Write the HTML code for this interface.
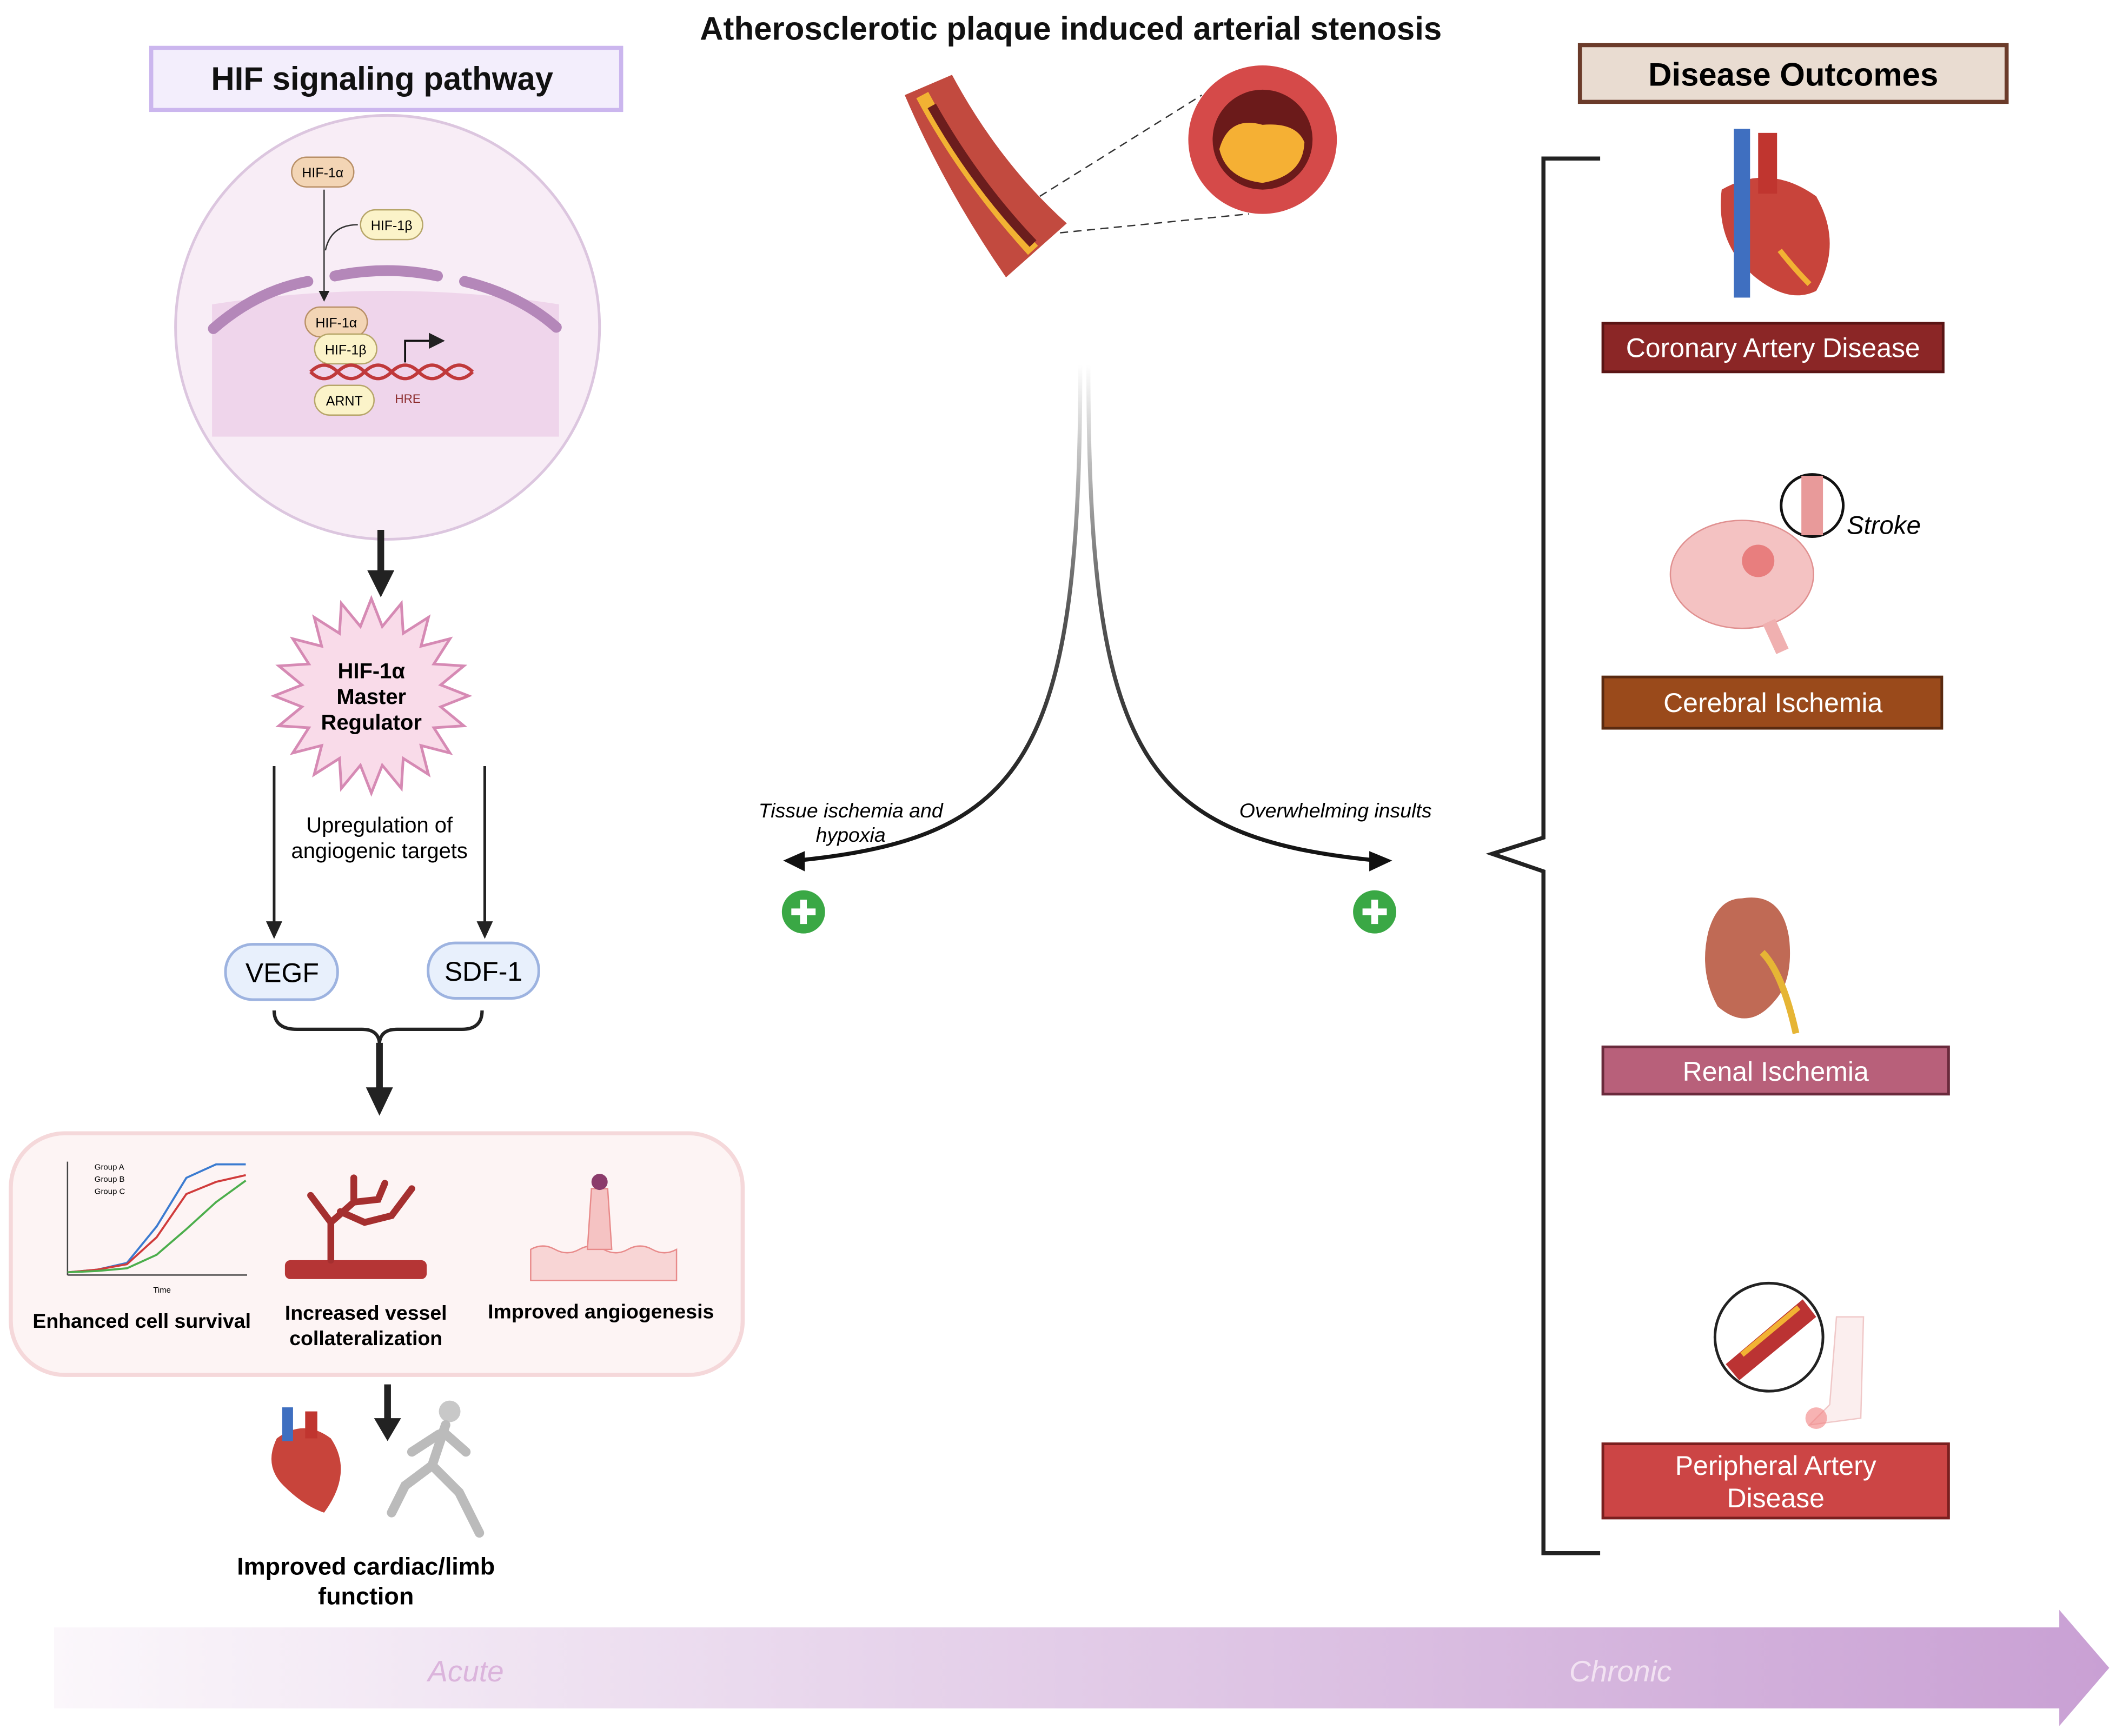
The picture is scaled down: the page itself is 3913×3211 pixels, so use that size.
<!DOCTYPE html>
<html><head><meta charset="utf-8"><style>
html,body{margin:0;padding:0;background:#fff}
svg{display:block}
text{font-family:"Liberation Sans",sans-serif}
</style></head><body>
<svg width="3913" height="3211" viewBox="0 0 1567 1285" xmlns="http://www.w3.org/2000/svg">
<defs>
<linearGradient id="bar" x1="0" x2="1" y1="0" y2="0"><stop offset="0" stop-color="#fbf7fb"/><stop offset="1" stop-color="#c9a0d4"/></linearGradient>
<linearGradient id="curve" x1="0" x2="0" y1="0" y2="1"><stop offset="0" stop-color="#ffffff"/><stop offset="0.5" stop-color="#555"/><stop offset="1" stop-color="#111"/></linearGradient>
<marker id="ah" markerWidth="8" markerHeight="8" refX="5" refY="4" orient="auto" markerUnits="strokeWidth"><path d="M0,0 L8,4 L0,8 z" fill="#222"/></marker>
</defs>
<rect width="1567" height="1285" fill="#fff"/>

<!-- Title -->
<text x="793" y="29" font-size="24" font-weight="bold" text-anchor="middle" fill="#111">Atherosclerotic plaque induced arterial stenosis</text>

<!-- HIF header -->
<rect x="112" y="35" width="348" height="46" fill="#f3eefc" stroke="#cbb6ee" stroke-width="3"/>
<text x="283" y="66" font-size="24" font-weight="bold" text-anchor="middle" fill="#111">HIF signaling pathway</text>

<!-- circle -->
<circle cx="287" cy="242" r="157" fill="#f8edf6" stroke="#dcc6df" stroke-width="2"/>
<path d="M157,225 Q287,205 414,225 L414,323 L157,323 z" fill="#efd5eb"/>
<path d="M158,243 Q190,215 228,208" stroke="#b487b9" stroke-width="8" fill="none" stroke-linecap="round"/>
<path d="M248,204 Q287,196 324,204" stroke="#b487b9" stroke-width="8" fill="none" stroke-linecap="round"/>
<path d="M344,208 Q385,218 412,242" stroke="#b487b9" stroke-width="8" fill="none" stroke-linecap="round"/>
<rect x="216" y="116" width="46" height="22" rx="11" fill="#f3d5b5" stroke="#b99067"/>
<text x="239" y="131" font-size="10" text-anchor="middle">HIF-1α</text>
<line x1="240" y1="140" x2="240" y2="220" stroke="#333" stroke-width="1" marker-end="url(#ah)"/>
<path d="M265,166 Q245,166 241,185" stroke="#333" fill="none"/>
<rect x="267" y="155" width="46" height="22" rx="11" fill="#fbf3c9" stroke="#b7a66a"/>
<text x="290" y="170" font-size="10" text-anchor="middle">HIF-1β</text>
<rect x="226" y="227" width="46" height="22" rx="11" fill="#f3d5b5" stroke="#b99067"/>
<text x="249" y="242" font-size="10" text-anchor="middle">HIF-1α</text>
<rect x="233" y="247" width="46" height="22" rx="11" fill="#fbf3c9" stroke="#b7a66a"/>
<text x="256" y="262" font-size="10" text-anchor="middle">HIF-1β</text>
<path d="M230,275 q10,-10 20,0 t20,0 t20,0 t20,0 t20,0 t20,0" stroke="#c0393b" stroke-width="2.5" fill="none"/>
<path d="M230,275 q10,10 20,0 t20,0 t20,0 t20,0 t20,0 t20,0" stroke="#c0393b" stroke-width="2.5" fill="none"/>
<path d="M300,268 L300,252 L325,252" stroke="#111" stroke-width="1.5" fill="none" marker-end="url(#ah)"/>
<rect x="233" y="285" width="44" height="22" rx="11" fill="#fbf3c9" stroke="#b7a66a"/>
<text x="255" y="300" font-size="10" text-anchor="middle">ARNT</text>
<text x="302" y="298" font-size="9" text-anchor="middle" fill="#8b2b2b">HRE</text>

<!-- arrow down -->
<line x1="282" y1="392" x2="282" y2="425" stroke="#222" stroke-width="5"/>
<path d="M272,422 L292,422 L282,442 z" fill="#222"/>

<!-- starburst -->
<polygon id="star" fill="#f9dbe9" stroke="#d68ab4" stroke-width="2" points=""/>
<script>
(function(){var cx=275,cy=515,R=72,r=52,n=20,p=[];for(var i=0;i<2*n;i++){var a=Math.PI*i/n-Math.PI/2;var rr=i%2?r:R;p.push((cx+rr*Math.cos(a)).toFixed(1)+','+(cy+rr*Math.sin(a)).toFixed(1));}document.getElementById('star').setAttribute('points',p.join(' '));})();
</script>
<text x="275" y="502" font-size="16" font-weight="bold" text-anchor="middle">HIF-1α</text>
<text x="275" y="521" font-size="16" font-weight="bold" text-anchor="middle">Master</text>
<text x="275" y="540" font-size="16" font-weight="bold" text-anchor="middle">Regulator</text>

<line x1="203" y1="567" x2="203" y2="685" stroke="#222" stroke-width="2"/>
<path d="M197,682 L209,682 L203,695 z" fill="#222"/>
<line x1="359" y1="567" x2="359" y2="685" stroke="#222" stroke-width="2"/>
<path d="M353,682 L365,682 L359,695 z" fill="#222"/>
<text x="281" y="616" font-size="16" text-anchor="middle">Upregulation of</text>
<text x="281" y="635" font-size="16" text-anchor="middle">angiogenic targets</text>

<rect x="167" y="699" width="83" height="41" rx="20" fill="#e8f0fc" stroke="#9db3e0" stroke-width="2"/>
<text x="209" y="727" font-size="20" text-anchor="middle">VEGF</text>
<rect x="317" y="698" width="82" height="41" rx="20" fill="#e8f0fc" stroke="#9db3e0" stroke-width="2"/>
<text x="358" y="726" font-size="20" text-anchor="middle">SDF-1</text>

<path d="M203,748 Q203,762 220,762 L268,762 Q280,762 281,772 Q282,762 294,762 L342,762 Q357,762 357,748" stroke="#222" stroke-width="2.5" fill="none"/>
<line x1="281" y1="772" x2="281" y2="808" stroke="#222" stroke-width="5"/>
<path d="M271,805 L291,805 L281,826 z" fill="#222"/>

<!-- result box -->
<rect x="8" y="839" width="542" height="179" rx="40" fill="#fdf4f4" stroke="#f5d8da" stroke-width="3"/>
<!-- chart -->
<line x1="50" y1="860" x2="50" y2="944" stroke="#444"/>
<line x1="50" y1="944" x2="183" y2="944" stroke="#444"/>
<polyline points="50,942 72,940 94,935 116,908 138,872 160,862 182,862" stroke="#3b7bd0" stroke-width="1.5" fill="none"/>
<polyline points="50,942 72,940 94,936 116,916 138,884 160,875 182,870" stroke="#d03b3b" stroke-width="1.5" fill="none"/>
<polyline points="50,942 72,941 94,939 116,929 138,910 160,890 182,874" stroke="#4cae4c" stroke-width="1.5" fill="none"/>
<text x="70" y="866" font-size="6">Group A</text><text x="70" y="875" font-size="6">Group B</text><text x="70" y="884" font-size="6">Group C</text>
<text x="120" y="957" font-size="6" text-anchor="middle">Time</text>
<text x="105" y="983" font-size="15" font-weight="bold" text-anchor="middle">Enhanced cell survival</text>
<!-- vessel -->
<rect x="211" y="933" width="105" height="14" rx="4" fill="#b53535"/>
<path d="M245,933 L245,905 L230,885 M245,905 L262,890 L262,872 M262,890 L280,888 L285,876 M252,897 L270,905 L290,900 L305,880" stroke="#a52f2f" stroke-width="5" fill="none" stroke-linecap="round"/>
<text x="271" y="977" font-size="15" font-weight="bold" text-anchor="middle">Increased vessel</text>
<text x="271" y="996" font-size="15" font-weight="bold" text-anchor="middle">collateralization</text>
<!-- angiogenesis -->
<path d="M393,925 q9,-5 18,0 t18,0 t18,0 t18,0 t18,0 t18,0 L501,948 L393,948 z" fill="#f8d5d5" stroke="#e88a8a"/>
<path d="M435,925 L438,880 L450,880 L453,925 z" fill="#f5c3c3" stroke="#e88a8a"/>
<circle cx="444" cy="875" r="6" fill="#8b3b6b"/>
<text x="445" y="976" font-size="15" font-weight="bold" text-anchor="middle">Improved angiogenesis</text>

<line x1="287" y1="1025" x2="287" y2="1052" stroke="#222" stroke-width="5"/>
<path d="M277,1050 L297,1050 L287,1067 z" fill="#222"/>
<!-- small heart -->
<path d="M205,1065 Q225,1050 245,1065 Q262,1090 240,1120 Q225,1115 210,1100 Q195,1085 205,1065z" fill="#c8443b"/>
<rect x="209" y="1042" width="8" height="25" fill="#3f6fc0"/><rect x="226" y="1045" width="9" height="20" fill="#c0352f"/>
<!-- runner -->
<circle cx="333" cy="1045" r="8" fill="#c8c8c8"/>
<path d="M330,1055 L320,1085 L300,1100 L290,1120 M320,1085 L340,1105 L355,1135 M328,1060 L345,1075 M325,1062 L305,1075" stroke="#bbb" stroke-width="7" fill="none" stroke-linecap="round"/>
<text x="271" y="1166" font-size="18" font-weight="bold" text-anchor="middle">Improved cardiac/limb</text>
<text x="271" y="1188" font-size="18" font-weight="bold" text-anchor="middle">function</text>

<!-- bottom arrow -->
<path d="M40,1205 L1525,1205 L1525,1192 L1562,1235 L1525,1278 L1525,1265 L40,1265 z" fill="url(#bar)"/>
<text x="345" y="1245" font-size="22" font-style="italic" text-anchor="middle" fill="#dbb4dc">Acute</text>
<text x="1200" y="1245" font-size="22" font-style="italic" text-anchor="middle" fill="#f2e2f2">Chronic</text>

<!-- artery graphic -->
<path d="M670,70 L705,55 Q740,120 790,165 L745,205 Q700,140 670,70z" fill="#c24a3f"/>
<path d="M683,70 Q715,130 765,185" stroke="#f2b233" stroke-width="10" fill="none"/>
<path d="M690,78 Q722,135 765,180" stroke="#6b1d1d" stroke-width="7" fill="none"/>
<line x1="770" y1="145" x2="890" y2="70" stroke="#333" stroke-dasharray="6,4"/>
<line x1="785" y1="172" x2="925" y2="158" stroke="#333" stroke-dasharray="6,4"/>
<circle cx="935" cy="103" r="55" fill="#d54a49"/>
<circle cx="935" cy="103" r="37" fill="#6b1a1a"/>
<path d="M903,110 Q910,85 935,92 Q960,90 966,105 Q965,130 935,135 Q908,132 903,110z" fill="#f5b034"/>

<!-- center curves -->
<path d="M800,270 C800,560 760,620 590,637" stroke="url(#curve)" stroke-width="3" fill="none"/>
<path d="M806,270 C806,560 846,620 1020,637" stroke="url(#curve)" stroke-width="3" fill="none"/>
<path d="M596,630 L580,637 L596,645 z" fill="#111"/>
<path d="M1014,630 L1031,637 L1014,645 z" fill="#111"/>
<text x="630" y="605" font-size="15" font-style="italic" text-anchor="middle">Tissue ischemia and</text>
<text x="630" y="623" font-size="15" font-style="italic" text-anchor="middle">hypoxia</text>
<text x="989" y="605" font-size="15" font-style="italic" text-anchor="middle">Overwhelming insults</text>
<g fill="#3aa845"><circle cx="595" cy="675" r="16"/><circle cx="1018" cy="675" r="16"/></g>
<g stroke="#fff" stroke-width="5"><line x1="586" y1="675" x2="604" y2="675"/><line x1="595" y1="666" x2="595" y2="684"/><line x1="1009" y1="675" x2="1027" y2="675"/><line x1="1018" y1="666" x2="1018" y2="684"/></g>

<!-- right bracket -->
<path d="M1185,117 L1143,117 L1143,620 L1105,632 L1143,645 L1143,1150 L1185,1150" stroke="#222" stroke-width="3" fill="none"/>

<rect x="1170" y="33" width="316" height="42" fill="#e9dcd1" stroke="#6b3b2a" stroke-width="3"/>
<text x="1328" y="63" font-size="24" font-weight="bold" text-anchor="middle">Disease Outcomes</text>

<!-- heart -->
<path d="M1275,140 Q1310,120 1345,145 Q1365,180 1345,215 Q1325,225 1300,205 Q1270,180 1275,140z" fill="#c8443b"/>
<rect x="1284" y="95" width="12" height="125" fill="#3f6fc0"/><rect x="1302" y="98" width="14" height="45" fill="#c0352f"/>
<path d="M1318,185 Q1330,200 1340,210" stroke="#f2b233" stroke-width="4" fill="none"/>
<rect x="1187" y="239" width="252" height="36" fill="#8b2626" stroke="#5a1515" stroke-width="2"/>
<text x="1313" y="264" font-size="20" text-anchor="middle" fill="#fff">Coronary Artery Disease</text>

<!-- brain -->
<ellipse cx="1290" cy="425" rx="53" ry="40" fill="#f4c2c2" stroke="#e09090"/>
<circle cx="1302" cy="415" r="12" fill="#e05050" opacity="0.6"/>
<path d="M1310,460 L1320,482" stroke="#f0b0b0" stroke-width="10"/>
<circle cx="1342" cy="374" r="23" fill="#fff" stroke="#111" stroke-width="2"/>
<rect x="1334" y="352" width="16" height="44" fill="#e89a9a"/>
<text x="1395" y="395" font-size="19" font-style="italic" text-anchor="middle">Stroke</text>
<rect x="1187" y="501" width="251" height="38" fill="#9a4a1b" stroke="#5a2a10" stroke-width="2"/>
<text x="1313" y="527" font-size="20" text-anchor="middle" fill="#fff">Cerebral Ischemia</text>

<!-- kidney -->
<path d="M1290,665 Q1320,660 1325,695 Q1328,725 1315,740 Q1295,765 1272,745 Q1258,720 1265,690 Q1272,665 1290,665z" fill="#c06a55"/>
<path d="M1305,705 Q1320,720 1330,765" stroke="#e6b535" stroke-width="5" fill="none"/>
<rect x="1187" y="775" width="256" height="35" fill="#b8607a" stroke="#6a2a3c" stroke-width="2"/>
<text x="1315" y="800" font-size="20" text-anchor="middle" fill="#fff">Renal Ischemia</text>

<!-- PAD -->
<path d="M1360,975 L1380,975 L1378,1050 L1340,1055 L1355,1040 z" fill="#fbeeee" stroke="#f0c8c8"/>
<circle cx="1345" cy="1050" r="8" fill="#f28080" opacity="0.6"/>
<circle cx="1310" cy="990" r="40" fill="#fff" stroke="#222" stroke-width="2"/>
<path d="M1278,1010 L1335,962 L1345,975 L1288,1022 z" fill="#b33"/>
<path d="M1290,1003 L1332,968" stroke="#f2b233" stroke-width="4"/>
<rect x="1187" y="1069" width="256" height="55" fill="#cc4545" stroke="#7a1f1f" stroke-width="2"/>
<text x="1315" y="1092" font-size="20" text-anchor="middle" fill="#fff">Peripheral Artery</text>
<text x="1315" y="1116" font-size="20" text-anchor="middle" fill="#fff">Disease</text>
</svg>
</body></html>
